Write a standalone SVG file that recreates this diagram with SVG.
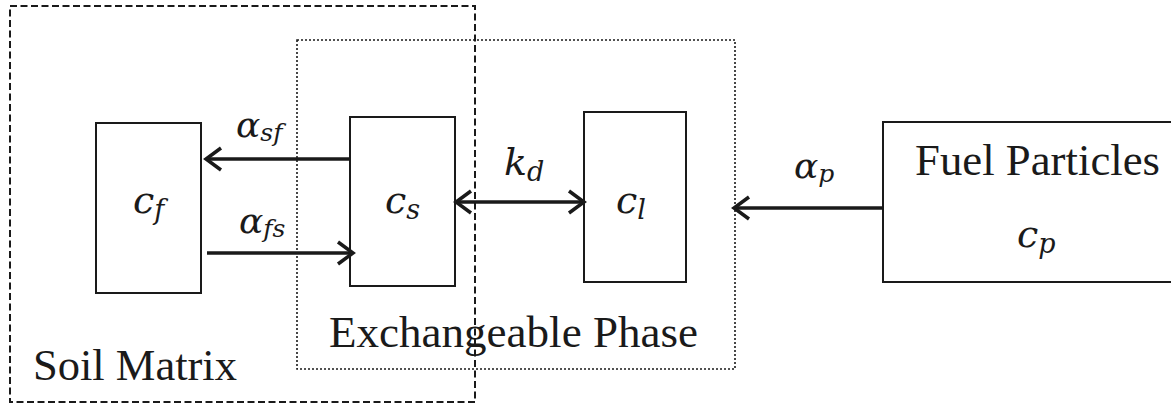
<svg xmlns="http://www.w3.org/2000/svg" width="1171" height="405" viewBox="0 0 1171 405">
<style>
.box{fill:none;stroke:#1a1a1a;stroke-width:2}
.lbl{font-family:"Liberation Serif","Times New Roman",serif;font-size:44px;fill:#1a1a1a}
.m{font-family:"DejaVu Serif","Liberation Serif",serif;font-style:italic;fill:#1a1a1a}
.conn{stroke:#1a1a1a;stroke-width:3.5;fill:none}
</style>
<defs>
<marker id="ah" markerUnits="userSpaceOnUse" markerWidth="40" markerHeight="40" refX="0" refY="0" viewBox="-20 -20 40 40" orient="auto-start-reverse" overflow="visible">
<path d="M-15,-11 L0,0 L-15,11" fill="none" stroke="#1a1a1a" stroke-width="3.5"/>
</marker>
</defs>
<rect fill="#fff" x="0" y="0" width="1171" height="405"/>
<g id="soil-matrix">
<rect x="10" y="6" width="465" height="396" fill="none" stroke="#1a1a1a" stroke-width="2" stroke-dasharray="7,3.5"/>
<text class="lbl" x="33" y="380" textLength="204" lengthAdjust="spacingAndGlyphs">Soil Matrix</text>
</g>
<g id="exchangeable-phase">
<rect x="297" y="40" width="438" height="329" fill="none" stroke="#1a1a1a" stroke-width="1.6" stroke-dasharray="2,2"/>
<text class="lbl" x="329" y="347" textLength="369" lengthAdjust="spacingAndGlyphs">Exchangeable Phase</text>
</g>
<g id="cf">
<rect class="box" x="96" y="123" width="105" height="170"/>
<text class="m" x="133" y="213" font-size="38">c<tspan font-size="27" dy="6">f</tspan></text>
</g>
<g id="cs">
<rect class="box" x="350" y="117" width="105" height="169"/>
<text class="m" x="385" y="213" font-size="38">c<tspan font-size="27" dy="6">s</tspan></text>
</g>
<g id="cl">
<rect class="box" x="584" y="112" width="102" height="170"/>
<text class="m" x="616" y="213" font-size="38">c<tspan font-size="27" dy="6">l</tspan></text>
</g>
<g id="fuel-particles">
<rect class="box" x="883" y="122" width="300" height="160"/>
<text class="lbl" x="915" y="175" textLength="245" lengthAdjust="spacingAndGlyphs">Fuel Particles</text>
<text class="m" x="1017" y="247" font-size="38">c<tspan font-size="27" dy="6">p</tspan></text>
</g>
<g id="connectors">
<line class="conn" x1="350" y1="159" x2="206" y2="159" marker-end="url(#ah)"/>
<line class="conn" x1="207" y1="253" x2="353" y2="253" marker-end="url(#ah)"/>
<line class="conn" x1="456" y1="202" x2="584" y2="202" marker-start="url(#ah)" marker-end="url(#ah)"/>
<line class="conn" x1="883" y1="208" x2="734" y2="208" marker-end="url(#ah)"/>
<text class="m" x="236" y="137" font-size="36">α<tspan font-size="25" dy="4">sf</tspan></text>
<text class="m" x="239" y="233" font-size="36">α<tspan font-size="25" dy="4">fs</tspan></text>
<text class="m" x="504" y="175" font-size="38">k<tspan font-size="27" dy="6">d</tspan></text>
<text class="m" x="794" y="178" font-size="36">α<tspan font-size="25" dy="4">p</tspan></text>
</g>
</svg>
